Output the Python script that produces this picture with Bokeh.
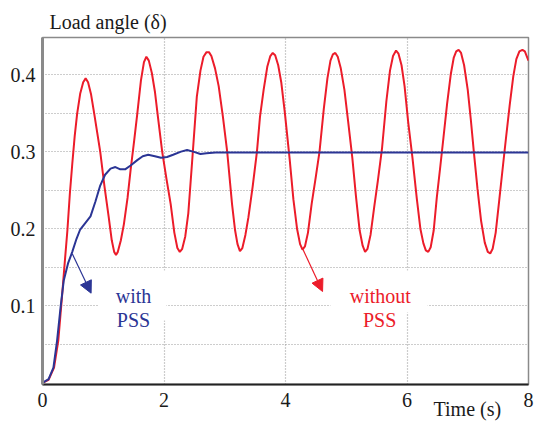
from bokeh.plotting import figure
from bokeh.models import Range1d, FixedTicker, Label, Arrow, NormalHead, Title
from bokeh.embed import file_html
from bokeh.resources import INLINE

# ---------------- data ----------------
t_without = [0.00, 0.10, 0.19, 0.26, 0.32, 0.37, 0.41, 0.45, 0.49, 0.53, 0.57, 0.62, 0.67, 0.71,
             0.75, 0.80, 0.85, 0.90, 0.95, 1.02, 1.09, 1.14, 1.18, 1.21, 1.24, 1.29, 1.34, 1.40,
             1.45, 1.51, 1.56, 1.62, 1.67, 1.71, 1.75, 1.80, 1.85, 1.90, 1.97, 2.04, 2.11, 2.17,
             2.22, 2.26, 2.30, 2.35, 2.40, 2.46, 2.54, 2.60, 2.65, 2.70, 2.74, 2.78, 2.84, 2.90,
             2.97, 3.04, 3.12, 3.17, 3.21, 3.25, 3.29, 3.34, 3.39, 3.46, 3.53, 3.58, 3.64, 3.70,
             3.75, 3.79, 3.83, 3.88, 3.93, 3.99, 4.07, 4.13, 4.19, 4.24, 4.28, 4.32, 4.37, 4.43,
             4.50, 4.56, 4.63, 4.69, 4.74, 4.78, 4.82, 4.86, 4.91, 4.97, 5.03, 5.10, 5.16, 5.22,
             5.27, 5.31, 5.35, 5.40, 5.46, 5.52, 5.59, 5.66, 5.72, 5.77, 5.82, 5.86, 5.91, 5.96,
             6.02, 6.09, 6.16, 6.22, 6.27, 6.31, 6.35, 6.39, 6.44, 6.49, 6.55, 6.60, 6.66, 6.72,
             6.77, 6.81, 6.85, 6.89, 6.94, 7.00, 7.05, 7.10, 7.16, 7.22, 7.28, 7.33, 7.37, 7.41,
             7.46, 7.52, 7.58, 7.63, 7.69, 7.75, 7.80, 7.85, 7.90, 7.94, 7.98, 8.00]
d_without = [0.000, 0.004, 0.020, 0.055, 0.111, 0.160, 0.198, 0.245, 0.284, 0.320, 0.349, 0.375, 0.390, 0.395,
             0.390, 0.374, 0.350, 0.325, 0.300, 0.255, 0.215, 0.185, 0.170, 0.166, 0.170, 0.185, 0.206, 0.240,
             0.276, 0.315, 0.349, 0.392, 0.416, 0.423, 0.418, 0.402, 0.378, 0.345, 0.300, 0.265, 0.232, 0.195,
             0.175, 0.170, 0.174, 0.190, 0.220, 0.284, 0.371, 0.405, 0.423, 0.429, 0.429, 0.424, 0.408, 0.385,
             0.345, 0.300, 0.232, 0.198, 0.180, 0.171, 0.175, 0.192, 0.215, 0.255, 0.300, 0.345, 0.380, 0.410,
             0.424, 0.428, 0.425, 0.412, 0.390, 0.350, 0.289, 0.238, 0.200, 0.180, 0.173, 0.177, 0.195, 0.232,
             0.268, 0.300, 0.355, 0.395, 0.418, 0.426, 0.428, 0.423, 0.408, 0.380, 0.340, 0.292, 0.242, 0.198,
             0.178, 0.170, 0.174, 0.192, 0.228, 0.262, 0.305, 0.365, 0.405, 0.424, 0.431, 0.427, 0.412, 0.385,
             0.338, 0.292, 0.240, 0.200, 0.181, 0.172, 0.170, 0.176, 0.198, 0.240, 0.282, 0.318, 0.362, 0.400,
             0.422, 0.430, 0.432, 0.428, 0.412, 0.380, 0.342, 0.300, 0.252, 0.210, 0.182, 0.170, 0.168, 0.174,
             0.195, 0.238, 0.282, 0.318, 0.360, 0.398, 0.420, 0.430, 0.432, 0.430, 0.422, 0.418]

t_with = [0.00, 0.10, 0.18, 0.24, 0.30, 0.35, 0.42, 0.49, 0.56, 0.62, 0.70, 0.79, 0.87, 0.95, 1.03,
          1.12, 1.20, 1.28, 1.36, 1.45, 1.56, 1.65, 1.74, 1.85, 1.95, 2.05, 2.15, 2.28, 2.38, 2.48,
          2.60, 2.70, 2.85, 3.20, 8.00]
d_with = [0.000, 0.005, 0.020, 0.055, 0.100, 0.133, 0.155, 0.170, 0.187, 0.199, 0.207, 0.216, 0.235, 0.256, 0.270,
          0.278, 0.280, 0.277, 0.277, 0.282, 0.289, 0.294, 0.296, 0.294, 0.292, 0.293, 0.296, 0.300, 0.302, 0.300,
          0.297, 0.298, 0.299, 0.299, 0.299]

x_ticks = [0, 2, 4, 6, 8]
y_ticks = [0.1, 0.2, 0.3, 0.4]
y_minor = [0.05, 0.15, 0.25, 0.35]

RED = "#ec1c2a"
BLUE = "#2b3595"
FONT = "'Liberation Serif', 'Times New Roman', Times, serif"

p = figure(width=534, height=422, output_backend="svg", toolbar_location=None,
           x_range=Range1d(0, 8.0), y_range=Range1d(-0.002, 0.448),
           min_border_left=42, min_border_right=6, min_border_top=37, min_border_bottom=38)
p.background_fill_color = "white"
p.border_fill_color = "white"
p.outline_line_color = "#8a8a8a"
p.outline_line_width = 1.5

# title
p.title.text = "Load angle (δ)"
p.title.align = "left"
p.title.offset = 7
p.title.standoff = 9
p.title.text_font = FONT
p.title.text_font_size = "20px"
p.title.text_font_style = "normal"
p.title.text_color = "#1a1a1a"

# axes
p.xaxis.ticker = FixedTicker(ticks=x_ticks)
p.yaxis.ticker = FixedTicker(ticks=y_ticks, minor_ticks=y_minor)
for ax in (p.xaxis[0], p.yaxis[0]):
    ax.major_tick_line_color = None
    ax.minor_tick_line_color = None
    ax.major_tick_out = 0
    ax.minor_tick_out = 0
    ax.major_label_text_font = FONT
    ax.major_label_text_font_size = "20px"
    ax.major_label_text_color = "#1a1a1a"
p.xaxis.axis_line_color = "#222222"
p.xaxis.axis_line_width = 2
p.xaxis.major_label_standoff = 8
p.yaxis.axis_line_color = "#8a8a8a"
p.yaxis.axis_line_width = 3
p.yaxis.major_label_standoff = 7

# x-axis caption, sitting below the tick labels at the right
p.add_layout(Title(text="Time (s)", align="left", offset=391, standoff=-24,
                   vertical_align="top", text_font=FONT, text_font_size="20px",
                   text_font_style="normal", text_color="#1a1a1a"), "below")

# grid
p.xgrid.ticker = FixedTicker(ticks=[2, 4, 6])
p.ygrid.ticker = FixedTicker(ticks=y_ticks, minor_ticks=y_minor)
for g in (p.xgrid[0], p.ygrid[0]):
    g.grid_line_color = "#9a9a9a"
    g.grid_line_dash = "1 2"
    g.grid_line_width = 1.2
p.ygrid.minor_grid_line_color = "#9a9a9a"
p.ygrid.minor_grid_line_dash = "1 2"
p.ygrid.minor_grid_line_width = 1.2

# white boxes behind the annotation texts
p.quad(left=[0.92, 4.74], right=[2.04, 6.34], bottom=[0.081, 0.0914], top=[0.146, 0.146],
       fill_color="white", line_color=None)

# curves
p.line(t_without, d_without, line_color=RED, line_width=2)
p.line(t_with, d_with, line_color=BLUE, line_width=2)

# arrows
p.add_layout(Arrow(x_start=0.49, y_start=0.1675, x_end=0.80, y_end=0.1164,
                   line_color=BLUE, line_width=1.2,
                   end=NormalHead(size=12, fill_color=BLUE, line_color=BLUE)))
p.add_layout(Arrow(x_start=4.29, y_start=0.1727, x_end=4.61, y_end=0.1186,
                   line_color=RED, line_width=1.2,
                   end=NormalHead(size=12, fill_color=RED, line_color=RED)))

# texts
def lab(x, y, txt, color, align="center"):
    p.add_layout(Label(x=x, y=y, text=txt, text_color=color, text_font=FONT,
                       text_font_size="20px", text_align=align, text_baseline="alphabetic"))

lab(1.498, 0.113, "with", BLUE)
lab(1.498, 0.081, "PSS", BLUE)
lab(5.56, 0.113, "without", RED)
lab(5.55, 0.082, "PSS", RED)

open("out.html", "w").write(file_html(p, INLINE))
